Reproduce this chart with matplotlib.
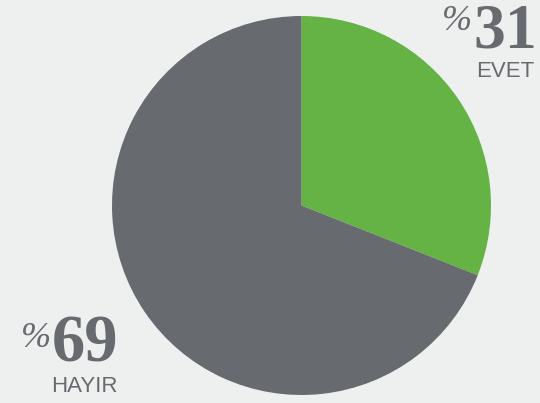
import matplotlib.pyplot as plt

labels = ["EVET", "HAYIR"]
values = [31, 69]
colors = ["#66b345", "#676a6e"]

W, H = 540, 403
fig = plt.figure(figsize=(W / 100, H / 100), dpi=100, facecolor="#eef0ef")
ax = fig.add_axes([0, 0, 1, 1])
ax.set_facecolor("#eef0ef")

ax.pie(values, colors=colors, startangle=90, counterclock=False,
       center=(301.5, H - 205.5), radius=189.5, frame=True,
       wedgeprops=dict(linewidth=0))
ax.set_xlim(0, W)
ax.set_ylim(0, H)
ax.set_aspect("equal")
ax.axis("off")

num_font = dict(family="Liberation Serif", weight="bold", color="#676a6e")
pct_font = dict(family="Liberation Serif", style="italic", color="#676a6e")
lab_font = dict(family="Liberation Sans", color="#676a6e")

# EVET
ax.text(537, H - 47, str(values[0]), fontsize=46, ha="right", va="baseline", **num_font)
ax.text(472, H - 30, "%", fontsize=26, ha="right", va="baseline", **pct_font)
ax.text(534, H - 77, labels[0], fontsize=16, ha="right", va="baseline", **lab_font)

# HAYIR
ax.text(118, H - 362, str(values[1]), fontsize=48, ha="right", va="baseline", **num_font)
ax.text(51, H - 347, "%", fontsize=26, ha="right", va="baseline", **pct_font)
ax.text(118, H - 392, labels[1], fontsize=16, ha="right", va="baseline", **lab_font)

fig.savefig("out.png", dpi=100, facecolor=fig.get_facecolor())
